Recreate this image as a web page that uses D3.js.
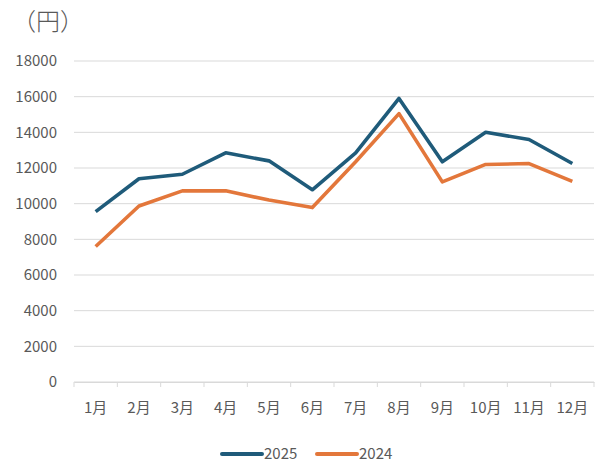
<!DOCTYPE html>
<html>
<head>
<meta charset="utf-8">
<script src="https://cdn.jsdelivr.net/npm/d3@7"></script>
<style>
  body { margin: 0; background: #fff; }
  text { font-family: "Noto Sans CJK JP", "Noto Sans", sans-serif; fill: #595959; }
</style>
</head>
<body>
<svg id="chart"></svg>
<script>
const months = ['1月', '2月', '3月', '4月', '5月', '6月', '7月', '8月', '9月', '10月', '11月', '12月'];
const values2025 = [9550, 11400, 11650, 12850, 12400, 10780, 12850, 15900, 12350, 14000, 13600, 12250];
const values2024 = [7600, 9870, 10720, 10720, 10200, 9780, 12350, 15050, 11220, 12200, 12250, 11250];
const yTicks = [0, 2000, 4000, 6000, 8000, 10000, 12000, 14000, 16000, 18000];

const width = 600;
const height = 467;
const margin = { top: 61, right: 6, bottom: 85, left: 74 };

const svg = d3.select('#chart')
  .attr('width', width)
  .attr('height', height);

const x = d3.scaleBand()
  .domain(months)
  .range([margin.left, width - margin.right]);

const y = d3.scaleLinear()
  .domain([0, 18000])
  .range([height - margin.bottom, margin.top]);

// gridlines
svg.append('g')
  .selectAll('line')
  .data(yTicks)
  .enter()
  .append('line')
  .attr('x1', margin.left)
  .attr('x2', width - margin.right)
  .attr('y1', (d) => y(d))
  .attr('y2', (d) => y(d))
  .attr('stroke', '#d9d9d9')
  .attr('stroke-width', 1);

// y labels
svg.append('g')
  .selectAll('text')
  .data(yTicks)
  .enter()
  .append('text')
  .attr('x', 57)
  .attr('y', (d) => y(d))
  .attr('dy', '0.35em')
  .attr('text-anchor', 'end')
  .style('font-size', '15px')
  .text((d) => d);

// x axis
const xAxis = d3.axisBottom(x)
  .tickSize(0)
  .tickPadding(20)
  .tickFormat((d) => d);

const gx = svg.append('g')
  .attr('transform', `translate(0, ${y(0)})`)
  .call(xAxis);
gx.select('.domain').attr('stroke', '#d9d9d9');
gx.selectAll('text')
  .style('font-size', '15px')
  .style('fill', '#595959')
  .style('font-family', '"Noto Sans CJK JP", sans-serif');

// category boundary ticks
const bounds = months.map((m) => x(m)).concat([x(months[months.length - 1]) + x.bandwidth()]);
svg.append('g')
  .selectAll('line')
  .data(bounds)
  .enter()
  .append('line')
  .attr('x1', (d) => d)
  .attr('x2', (d) => d)
  .attr('y1', y(0))
  .attr('y2', y(0) + 5)
  .attr('stroke', '#d9d9d9');

// unit label
svg.append('text')
  .attr('x', 12)
  .attr('y', 30)
  .style('font-size', '24px')
  .style('font-weight', 300)
  .text('（円）');

const series = [
  { name: '2025', values: values2025, color: '#1f5b7a' },
  { name: '2024', values: values2024, color: '#e3773b' }
];

const line = d3.line()
  .x((d, i) => x(months[i]) + x.bandwidth() / 2)
  .y((d) => y(d));

// draw 2024 first so 2025 sits on top
series.slice().reverse().forEach((s) => {
  svg.append('path')
    .datum(s.values)
    .attr('d', line)
    .attr('fill', 'none')
    .attr('stroke', s.color)
    .attr('stroke-width', 3.6)
    .attr('stroke-linejoin', 'round');
});

// legend
const legendX = [222, 317];
const legend = svg.append('g');
series.forEach((s, i) => {
  legend.append('line')
    .attr('x1', legendX[i])
    .attr('x2', legendX[i] + 40)
    .attr('y1', 454)
    .attr('y2', 454)
    .attr('stroke', s.color)
    .attr('stroke-width', 4)
    .attr('stroke-linecap', 'round');
  legend.append('text')
    .attr('x', legendX[i] + 42)
    .attr('y', 454)
    .attr('dy', '0.35em')
    .style('font-size', '15px')
    .text(s.name);
});
</script>
</body>
</html>
